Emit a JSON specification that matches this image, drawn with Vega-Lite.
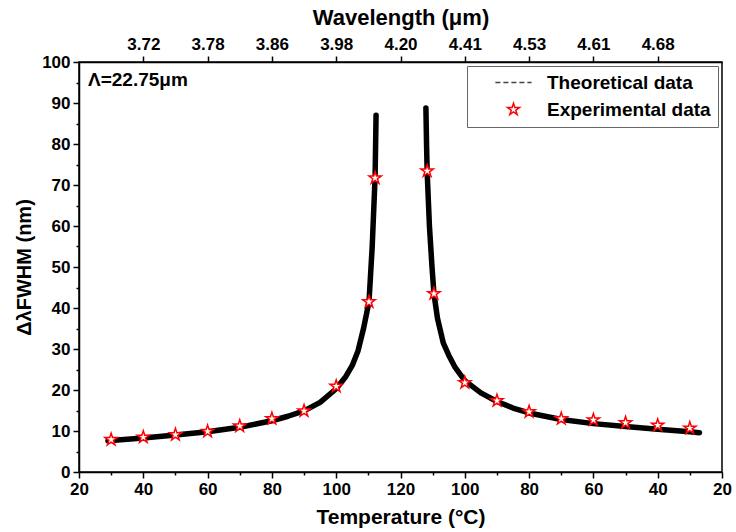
{
  "$schema": "https://vega.github.io/schema/vega-lite/v6.json",
  "width": 643,
  "height": 410,
  "autosize": {"type": "none"},
  "padding": {"left": 79, "top": 62, "right": 14, "bottom": 60},
  "background": "white",
  "config": {
    "font": "Liberation Sans",
    "view": {"stroke": "black", "strokeWidth": 1.5},
    "axis": {
      "grid": false,
      "domainColor": "black",
      "domainWidth": 1.5,
      "tickColor": "black",
      "tickWidth": 1.5,
      "labelColor": "black",
      "titleColor": "black",
      "labelFont": "Liberation Sans",
      "labelFontWeight": "bold",
      "labelFontSize": 17,
      "titleFont": "Liberation Sans",
      "titleFontWeight": "bold",
      "titleFontSize": 20
    }
  },
  "datasets": {
    "theory": [
      {"branch": "L", "pos": 29, "fwhm": 7.6},
      {"branch": "L", "pos": 35, "fwhm": 8.0},
      {"branch": "L", "pos": 40, "fwhm": 8.3},
      {"branch": "L", "pos": 50, "fwhm": 9.0},
      {"branch": "L", "pos": 60, "fwhm": 9.8},
      {"branch": "L", "pos": 70, "fwhm": 10.9},
      {"branch": "L", "pos": 80, "fwhm": 12.5},
      {"branch": "L", "pos": 85, "fwhm": 13.6},
      {"branch": "L", "pos": 90, "fwhm": 14.9},
      {"branch": "L", "pos": 95, "fwhm": 17.0},
      {"branch": "L", "pos": 100, "fwhm": 20.3},
      {"branch": "L", "pos": 103, "fwhm": 23.3},
      {"branch": "L", "pos": 105, "fwhm": 26.0},
      {"branch": "L", "pos": 106.8, "fwhm": 29.6},
      {"branch": "L", "pos": 108.5, "fwhm": 35.0},
      {"branch": "L", "pos": 110.2, "fwhm": 41.5},
      {"branch": "L", "pos": 111.2, "fwhm": 55.0},
      {"branch": "L", "pos": 112.1, "fwhm": 72.0},
      {"branch": "L", "pos": 112.4, "fwhm": 87.0},
      {"branch": "R", "pos": 127.9, "fwhm": 88.8},
      {"branch": "R", "pos": 128.1, "fwhm": 80.0},
      {"branch": "R", "pos": 128.3, "fwhm": 73.0},
      {"branch": "R", "pos": 129.0, "fwhm": 60.0},
      {"branch": "R", "pos": 129.8, "fwhm": 50.0},
      {"branch": "R", "pos": 130.4, "fwhm": 43.5},
      {"branch": "R", "pos": 131.5, "fwhm": 37.5},
      {"branch": "R", "pos": 133.3, "fwhm": 31.5},
      {"branch": "R", "pos": 135, "fwhm": 28.5},
      {"branch": "R", "pos": 137, "fwhm": 25.5},
      {"branch": "R", "pos": 140, "fwhm": 22.3},
      {"branch": "R", "pos": 145, "fwhm": 19.3},
      {"branch": "R", "pos": 150, "fwhm": 17.2},
      {"branch": "R", "pos": 155, "fwhm": 15.6},
      {"branch": "R", "pos": 160, "fwhm": 14.4},
      {"branch": "R", "pos": 170, "fwhm": 12.8},
      {"branch": "R", "pos": 180, "fwhm": 11.8},
      {"branch": "R", "pos": 190, "fwhm": 11.1},
      {"branch": "R", "pos": 200, "fwhm": 10.4},
      {"branch": "R", "pos": 210, "fwhm": 9.8},
      {"branch": "R", "pos": 213, "fwhm": 9.6}
    ],
    "experiment": [
      {"series": "Experimental data", "pos": 30, "fwhm": 7.9},
      {"series": "Experimental data", "pos": 40, "fwhm": 8.5},
      {"series": "Experimental data", "pos": 50, "fwhm": 9.1},
      {"series": "Experimental data", "pos": 60, "fwhm": 9.9},
      {"series": "Experimental data", "pos": 70, "fwhm": 11.2},
      {"series": "Experimental data", "pos": 80, "fwhm": 13.0},
      {"series": "Experimental data", "pos": 90, "fwhm": 14.9},
      {"series": "Experimental data", "pos": 100, "fwhm": 20.9},
      {"series": "Experimental data", "pos": 110.2, "fwhm": 41.5},
      {"series": "Experimental data", "pos": 112.1, "fwhm": 71.7},
      {"series": "Experimental data", "pos": 128.3, "fwhm": 73.4},
      {"series": "Experimental data", "pos": 130.4, "fwhm": 43.5},
      {"series": "Experimental data", "pos": 140, "fwhm": 21.8},
      {"series": "Experimental data", "pos": 150, "fwhm": 17.4},
      {"series": "Experimental data", "pos": 160, "fwhm": 14.7},
      {"series": "Experimental data", "pos": 170, "fwhm": 13.0},
      {"series": "Experimental data", "pos": 180, "fwhm": 12.7},
      {"series": "Experimental data", "pos": 190, "fwhm": 12.0},
      {"series": "Experimental data", "pos": 200, "fwhm": 11.4},
      {"series": "Experimental data", "pos": 210, "fwhm": 10.7}
    ]
  },
  "layer": [
    {
      "data": {"name": "theory"},
      "mark": {"type": "line", "color": "black", "strokeWidth": 5.5, "strokeCap": "round", "strokeJoin": "round"},
      "encoding": {
        "x": {
          "field": "pos", "type": "quantitative",
          "scale": {"domain": [20, 220], "nice": false, "zero": false},
          "axis": {
            "orient": "bottom",
            "values": [20, 40, 60, 80, 100, 120, 140, 160, 180, 200, 220],
            "labelExpr": "datum.value <= 120 ? format(datum.value, 'd') : format(240 - datum.value, 'd')",
            "tickSize": 6, "labelPadding": 3, "labelFlush": false, "labelOverlap": false,
            "title": "Temperature (°C)", "titlePadding": 9, "titleFontSize": 21
          }
        },
        "y": {
          "field": "fwhm", "type": "quantitative",
          "scale": {"domain": [0, 100], "nice": false},
          "axis": {
            "orient": "left",
            "values": [0, 10, 20, 30, 40, 50, 60, 70, 80, 90, 100],
            "tickSize": 6, "labelPadding": 3, "labelFlush": false, "labelOverlap": false,
            "title": "ΔλFWHM (nm)", "titlePadding": 7
          }
        },
        "detail": {"field": "branch", "type": "nominal"},
        "order": {"field": "pos", "type": "quantitative"}
      }
    },
    {
      "data": {"name": "experiment"},
      "mark": {"type": "point", "filled": true, "fill": "white", "strokeWidth": 1.5, "size": 165, "opacity": 1},
      "encoding": {
        "x": {
          "field": "pos", "type": "quantitative",
          "axis": {
            "orient": "top",
            "values": [40, 60, 80, 100, 120, 140, 160, 180, 200],
            "labelExpr": "['3.72','3.78','3.86','3.98','4.20','4.41','4.53','4.61','4.68'][round((datum.value - 40) / 20)]",
            "tickSize": 6, "labelPadding": 3, "labelFlush": false, "labelOverlap": false,
            "title": "Wavelength (μm)", "titlePadding": 6, "titleFontSize": 22
          }
        },
        "y": {"field": "fwhm", "type": "quantitative", "axis": null},
        "stroke": {
          "field": "series", "type": "nominal",
          "scale": {"domain": ["Theoretical data", "Experimental data"], "range": ["#444444", "red"]},
          "legend": {
            "title": null, "orient": "top-right", "offset": 4,
            "strokeColor": "#666666", "fillColor": "white", "padding": 7,
            "labelFont": "Liberation Sans", "labelFontSize": 19, "labelFontWeight": "bold", "labelColor": "black",
            "labelLimit": 300, "labelOffset": 24, "symbolStrokeWidth": 1.5, "symbolSize": 156,
            "rowPadding": 7, "symbolOffset": 30
          }
        },
        "shape": {
          "field": "series", "type": "nominal",
          "scale": {
            "domain": ["Theoretical data", "Experimental data"],
            "range": ["M-2.9,0L2.9,0", "M0,-1L0.2245,-0.309L0.951,-0.309L0.363,0.118L0.588,0.809L0,0.382L-0.588,0.809L-0.363,0.118L-0.951,-0.309L-0.2245,-0.309Z"]
          }
        },
        "strokeDash": {
          "field": "series", "type": "nominal",
          "scale": {"domain": ["Theoretical data", "Experimental data"], "range": [[5, 3], [1, 0]]}
        }
      }
    },
    {
      "data": {"values": [{}]},
      "mark": {"type": "text", "align": "left", "baseline": "middle", "fontSize": 19, "fontWeight": "bold", "font": "Liberation Sans", "color": "black"},
      "encoding": {
        "x": {
          "datum": 22.8, "type": "quantitative",
          "axis": {"orient": "bottom", "values": [30, 50, 70, 90, 110, 130, 150, 170, 190, 210], "tickSize": 3, "labels": false, "domain": false, "title": null}
        },
        "y": {
          "datum": 95.5, "type": "quantitative",
          "axis": {"orient": "left", "values": [5, 15, 25, 35, 45, 55, 65, 75, 85, 95], "tickSize": 3, "labels": false, "domain": false, "title": null}
        },
        "text": {"value": "Λ=22.75μm"}
      }
    }
  ],
  "resolve": {"axis": {"x": "independent", "y": "independent"}}
}
